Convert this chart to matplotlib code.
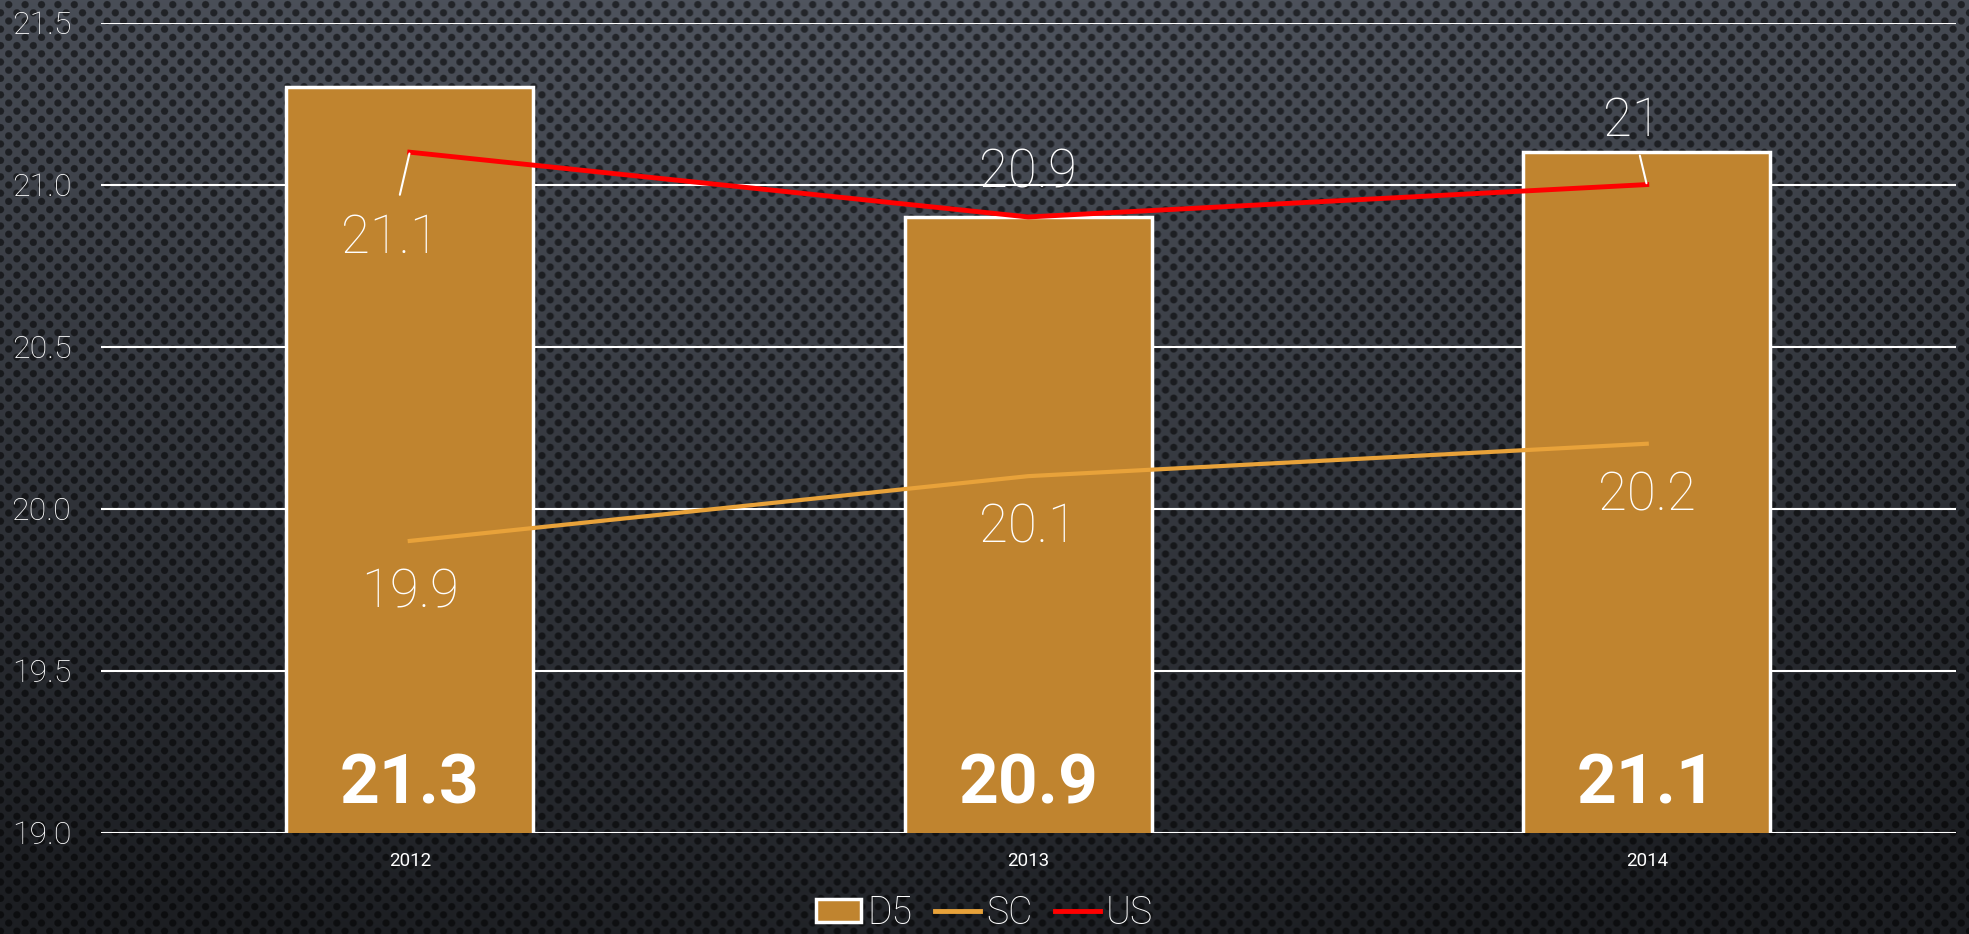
import numpy as np
import matplotlib
matplotlib.use("Agg")
import matplotlib.pyplot as plt
from matplotlib.patches import Patch, Rectangle
from matplotlib.lines import Line2D
from matplotlib.legend_handler import HandlerPatch

# ---- data ----
years = ["2012", "2013", "2014"]
d5 = [21.3, 20.9, 21.1]
sc = [19.9, 20.1, 20.2]
us = [21.1, 20.9, 21.0]
yticks = [19.0, 19.5, 20.0, 20.5, 21.0, 21.5]

W, H = 1969, 934
fig = plt.figure(figsize=(W / 100, H / 100), dpi=100)

# ---- background: gradient with perforated-dot texture ----
bg = fig.add_axes([0, 0, 1, 1], zorder=-10)
yy, xx = np.mgrid[0:H, 0:W].astype(float)
t = np.clip((yy / H) * 0.9 + (np.abs(xx - W * 0.45) / W) * 0.35, 0, 1)
top = np.array([80, 85, 95]) / 255.0
bot = np.array([28, 30, 34]) / 255.0
img = top[None, None, :] * (1 - t[..., None]) + bot[None, None, :] * t[..., None]
spx, spy = 16.4, 8.2
row = np.floor(yy / spy)
ox = (xx + (row % 2) * spx / 2) % spx - spx / 2
oy = yy % spy - spy / 2
r = np.sqrt(ox ** 2 + oy ** 2)
dot = np.clip((4.2 - r) / 1.2, 0, 1)
img = img * (1 - 0.55 * dot[..., None])
bg.imshow(img, aspect="auto", extent=[0, 1, 0, 1], interpolation="bilinear")
bg.axis("off")

x0, x1, y0, y1 = 100.5, 1956, 22.6, 832.5
ax = fig.add_axes([x0 / W, 1 - y1 / H, (x1 - x0) / W, (y1 - y0) / H])
ax.patch.set_alpha(0)

FONT = "Roboto"
LW = "light"
x = np.arange(len(years))

ax.set_ylim(19.0, 21.5)
ax.set_xlim(-0.5, 2.5)
ax.set_yticks(yticks)
ax.set_yticklabels([f"{v:.1f}" for v in yticks], fontsize=23, color="white",
                   family=FONT, fontweight=LW)
ax.set_xticks(x)
ax.set_xticklabels(years, fontsize=13.5, color="white", family=FONT)
ax.tick_params(length=0)
ax.tick_params(axis="y", pad=21)
ax.tick_params(axis="x", pad=14)
for s in ax.spines.values():
    s.set_visible(False)
ax.grid(axis="y", color="white", lw=1.5, zorder=0)
ax.set_axisbelow(True)

bars = ax.bar(x, d5, width=0.4, bottom=0, color="#C0842F", edgecolor="white",
              linewidth=2.5, zorder=2, label="D5")
ax.plot(x, sc, color="#E8A23A", lw=3, zorder=3, label="SC")
ax.plot(x, us, color="#FF0000", lw=3.5, zorder=4, label="US")

# bar value labels (bold, bottom of bars)
for xi, v in zip(x, d5):
    ax.annotate(f"{v:g}", xy=(xi, 19.0), xytext=(0, 47), textcoords="offset pixels",
                ha="center", va="center", fontsize=50, fontweight="bold",
                color="white", family=FONT, zorder=6)

# SC labels
for xi, v in zip(x, sc):
    ax.annotate(f"{v:g}", xy=(xi, v), xytext=(0, -52), textcoords="offset pixels",
                ha="center", va="center", fontsize=38, color="white",
                family=FONT, fontweight=LW, zorder=6)

# US labels
us_off = [(-20, -86), (0, 44), (-15, 63)]
us_shrink = [11, 0, 4]
for i, (xi, v, off, sh) in enumerate(zip(x, us, us_off, us_shrink)):
    arrow = None
    if i != 1:
        arrow = dict(arrowstyle="-", color="white", lw=1.5, shrinkA=sh, shrinkB=1)
    ax.annotate(f"{v:g}", xy=(xi, v), xytext=off, textcoords="offset pixels",
                ha="center", va="center", fontsize=38, color="white",
                family=FONT, fontweight=LW, zorder=6, arrowprops=arrow)


def legend_patch(legend, orig_handle, xdescent, ydescent, width, height, fontsize):
    h = height * 0.85
    return Rectangle((-xdescent, -ydescent + (height - h) / 2), width, h)


handles = [Patch(facecolor="#C0842F", edgecolor="white", linewidth=2.5, label="D5"),
           Line2D([0], [0], color="#E8A23A", lw=3.5, label="SC"),
           Line2D([0], [0], color="#FF0000", lw=3.5, label="US")]
leg = fig.legend(handles=handles, loc="center", bbox_to_anchor=(0.5, 1 - 913 / H),
                 ncol=3, frameon=False, handlelength=1.2,
                 handletextpad=0.16, columnspacing=0.6,
                 handler_map={Patch: HandlerPatch(patch_func=legend_patch)},
                 prop=dict(family=FONT, size=27, weight=LW))
for txt in leg.get_texts():
    txt.set_color("white")

fig.savefig("out.png", dpi=100)
